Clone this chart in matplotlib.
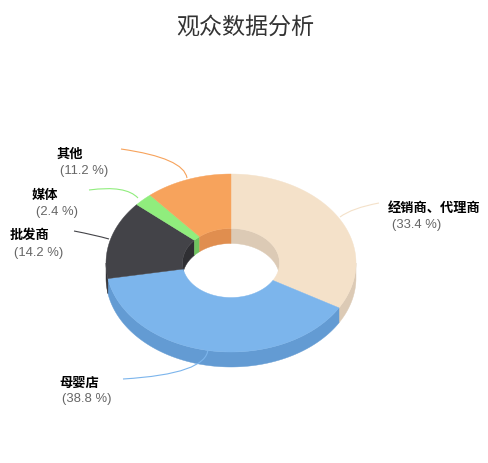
#!/usr/bin/env python
import numpy as np
import matplotlib
matplotlib.use('Agg')
import matplotlib.pyplot as plt
from matplotlib.patches import PathPatch
from matplotlib.path import Path

plt.rcParams['font.family'] = ['Noto Sans CJK SC', 'DejaVu Sans']

title = '观众数据分析'
names = ['经销商、代理商', '母婴店', '批发商', '媒体', '其他']
shares = [33.4, 38.8, 14.2, 2.4, 11.2]
top_colors = ['#F4E1C9', '#7CB5EC', '#434348', '#90ED7D', '#F7A35C']
front_colors = ['#DCCAB5', '#639BD3', '#333337', '#82D571', '#DE9353']
wall_colors = ['#DCCAB5', '#6FA3D5', '#2F2F33', '#6FC45F', '#E08E4F']

# pie geometry in pixels
cx, cy = 231, 263
rx, ry = 125, 89
hole = 0.388
depth = 15

fig = plt.figure(figsize=(4.88, 4.63), dpi=100)
ax = fig.add_axes([0, 0, 1, 1])
ax.set_xlim(0, 488)
ax.set_ylim(463, 0)
ax.axis('off')


def arc(a0, a1, scale=1.0, dy=0):
    t = np.radians(np.linspace(a0, a1, 200))
    return cx + rx * scale * np.sin(t), cy + dy - ry * scale * np.cos(t)


edges = np.cumsum([0] + shares) / sum(shares) * 360

# outer wall, only the front half shows
for i in range(len(shares)):
    a0, a1 = max(edges[i], 90), min(edges[i + 1], 270)
    if a1 <= a0:
        continue
    x0, y0 = arc(a0, a1)
    x1, y1 = arc(a1, a0, dy=depth)
    ax.fill(np.r_[x0, x1], np.r_[y0, y1], color=front_colors[i], lw=0.3, zorder=1)

# inner wall seen through the hole, only the back half shows
for i in range(len(shares)):
    for lo, hi in [(0, 90), (270, 360)]:
        a0, a1 = max(edges[i], lo), min(edges[i + 1], hi)
        if a1 <= a0:
            continue
        x0, y0 = arc(a0, a1, hole)
        x1, y1 = arc(a1, a0, hole, dy=depth)
        ax.fill(np.r_[x0, x1], np.r_[y0, y1], color=wall_colors[i], lw=0.3, zorder=2)

# top faces
for i in range(len(shares)):
    x0, y0 = arc(edges[i], edges[i + 1])
    x1, y1 = arc(edges[i + 1], edges[i], hole)
    ax.fill(np.r_[x0, x1], np.r_[y0, y1], color=top_colors[i], lw=0.3, zorder=4)

# connectors
connectors = [
    [(340, 217), (352, 208), (379, 203)],
    [(208, 349), (207, 374), (123, 379)],
    [(109, 239), (95, 235), (74, 231)],
    [(138, 198), (126, 185), (89, 190)],
    [(187, 178), (184, 158), (121, 149)],
]
for pts, c in zip(connectors, top_colors):
    path = Path(pts, [Path.MOVETO, Path.CURVE3, Path.CURVE3])
    ax.add_patch(PathPatch(path, fc='none', ec=c, lw=0.8, zorder=5))

# labels
name_pos = [(388, 208), (59, 383), (10, 235), (32, 195), (57, 154)]
pct_pos = [(392, 225), (62, 399), (14, 253), (36, 212), (60, 171)]
for name, share, np_, pp in zip(names, shares, name_pos, pct_pos):
    ax.text(np_[0], np_[1], name, fontsize=9.5, fontweight='bold', color='black',
            ha='left', va='center')
    ax.text(pp[0], pp[1], '(%.1f %%)' % share, fontsize=9.4, color='#666666',
            family='Liberation Sans', ha='left', va='center')

ax.text(245, 27, title, fontsize=16.6, color='#333333', ha='center', va='center')

fig.savefig('out.png', dpi=100)
